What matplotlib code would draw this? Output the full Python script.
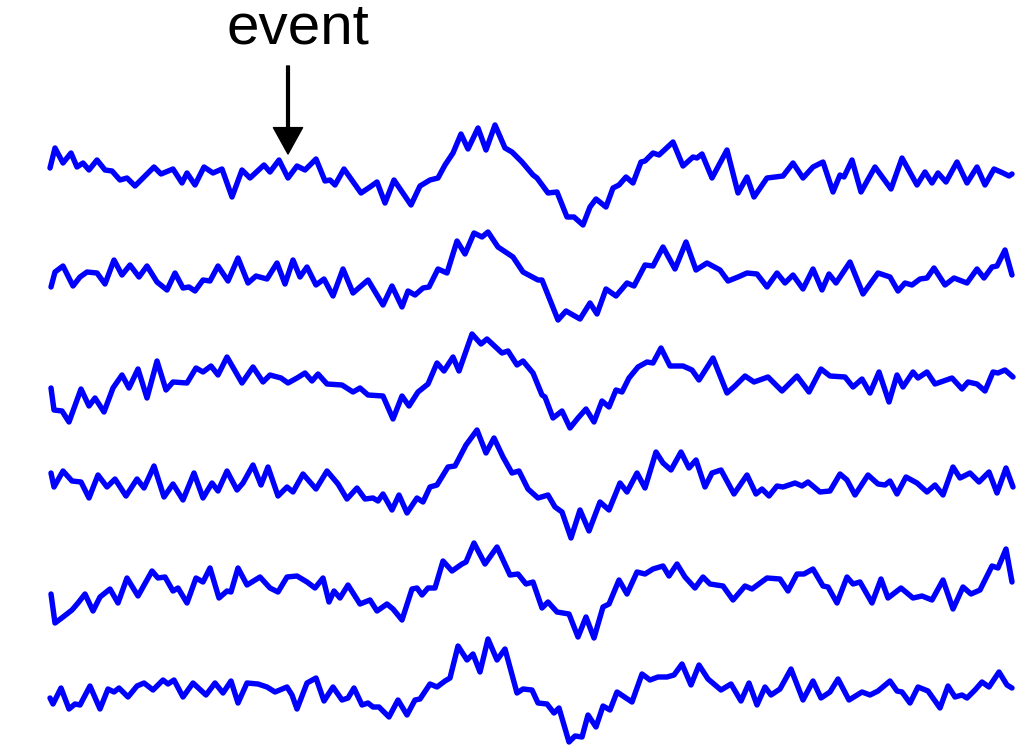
import matplotlib
matplotlib.use("Agg")
from matplotlib import pyplot as plt

# six trials, time (samples) and amplitude
t1 = [50, 55, 63, 71, 77, 83, 89, 97, 105, 112, 120, 127, 135, 143, 154, 161, 173, 182, 187, 195,
      204, 213, 222, 232, 242, 250, 264, 270, 279, 288, 297, 305, 316, 325, 330, 335, 344, 361, 370, 377,
      385, 394, 411, 420, 430, 438, 445, 453, 461, 468, 478, 486, 495, 505, 512, 522, 533,
      537, 548, 557, 567, 574, 583, 590, 596, 606, 613, 619, 626, 633, 641, 645, 653, 659, 673, 683, 693,
      697, 702, 712, 727, 738, 747, 754, 767, 783, 793, 803, 813, 823, 833, 840, 844, 852, 861, 875, 891,
      902, 917, 925, 932, 938, 946, 957, 967, 977, 985, 994, 1003, 1009, 1012]
v1 = [2, 22, 7, 17, 3, 7, 0, 10, 0, -1, -10, -8, -16, -8, 3, -4, 1, -13, -3, -15,
      3, -3, 1, -27, 0, -8, 5, -2, 10, -8, 4, 0, 11, -11, -10, -15, 1, -23, -17, -12,
      -33, -10, -35, -16, -10, -8, 5, 17, 36, 21, 42, 20, 45, 22, 18, 8, -5,
      -8, -23, -22, -47, -47, -55, -37, -29, -37, -18, -15, -7, -13, 8, 9, 17, 15, 28, 4, 13,
      12, 16, -8, 20, -23, -7, -27, -8, -6, 7, -8, 3, 8, -22, -5, -7, 10, -22, 3, -19,
      12, -15, -2, -13, -3, -12, 8, -13, 3, -15, 1, -3, -6, -4]

t2 = [51, 55, 63, 73, 80, 87, 97, 105, 114, 122, 130, 139, 147, 157, 167, 175, 183, 189, 195, 203,
      210, 218, 228, 238, 248, 256, 267, 277, 285, 293, 300, 307, 316, 324, 333, 343, 353, 368, 383, 392,
      402, 408, 415, 423, 429, 438, 447, 457, 465, 474, 482, 488, 498, 513, 523, 538,
      542, 558, 566, 580, 590, 597, 606, 616, 627, 634, 645, 653, 663, 675, 686, 696, 707, 720, 728, 738,
      747, 757, 767, 777, 785, 793, 803, 813, 822, 829, 836, 850, 863, 878, 890, 898, 905, 912, 920, 927,
      934, 945, 954, 967, 977, 984, 992, 997, 1005, 1012]
v2 = [-12, 3, 9, -11, -2, 3, 2, -9, 15, 0, 10, -2, 9, -7, -15, 2, -13, -12, -16, -5,
      -6, 9, -6, 17, -8, -1, -4, 12, -9, 15, -2, 8, -10, -4, -21, 6, -18, -5, -30, -11,
      -32, -16, -20, -13, -12, 6, 2, 34, 21, 42, 38, 43, 28, 18, 3, -5,
      -5, -45, -36, -44, -28, -39, -14, -21, -8, -11, 10, 9, 28, 6, 33, 5, 12, 5, -6, -2,
      2, 1, -12, 2, -8, 0, -14, 6, -15, 1, -8, 13, -19, 2, -2, -16, -8, -10, -4, -3,
      7, -10, -3, -8, 6, -3, 8, 9, 25, 0]

t3 = [51, 54, 62, 69, 81, 89, 95, 104, 113, 122, 129, 138, 147, 157, 166, 173, 187, 196, 203, 211,
      218, 227, 242, 253, 263, 270, 281, 288, 297, 305, 312, 318, 327, 342, 353, 360, 368, 383, 393, 402,
      409, 418, 428, 437, 444, 453, 459, 472, 481, 487, 502, 508, 517, 523, 533,
      542, 545, 553, 562, 570, 578, 586, 594, 602, 609, 616, 622, 629, 638, 647, 653, 661, 670, 683, 692,
      699, 713, 727, 735, 745, 754, 768, 782, 797, 809, 821, 830, 845, 853, 862, 870, 879, 889, 897, 903,
      913, 918, 927, 935, 952, 962, 968, 977, 985, 993, 998, 1005, 1013]
v3 = [-3, -25, -26, -37, -4, -21, -13, -27, -3, 10, -3, 16, -13, 24, -5, 3, 2, 17, 13, 19,
      10, 28, 2, 18, 3, 10, 7, 2, 7, 12, 4, 11, 1, 0, -7, -3, -10, -11, -34, -11,
      -21, -7, 1, 22, 14, 28, 14, 51, 41, 46, 32, 34, 20, 24, 12,
      -10, -12, -33, -26, -43, -33, -24, -37, -16, -22, -5, -7, 7, 18, 23, 22, 37, 19, 19, 15,
      5, 27, -8, -1, 9, 3, 8, -6, 9, -7, 16, 9, 8, -2, 6, -8, 13, -17, 10, -2,
      13, 7, 13, 1, 7, -4, 3, 1, -6, 13, 12, 15, 8]

t4 = [51, 54, 63, 72, 81, 89, 98, 107, 115, 126, 137, 144, 154, 164, 173, 183, 194, 203, 212, 218,
      227, 237, 243, 253, 261, 268, 278, 287, 293, 303, 316, 327, 338, 347, 357, 365, 373, 378, 383, 392,
      399, 407, 417, 423, 430, 437, 448, 455, 466, 477, 486, 494, 503, 512, 519, 528,
      538, 548, 555, 562, 571, 580, 589, 600, 609, 620, 627, 637, 645, 656, 663, 671, 681, 689, 696, 705,
      712, 721, 734, 747, 756, 762, 769, 777, 783, 795, 802, 808, 820, 830, 840, 847, 855, 868, 878, 885,
      890, 897, 906, 917, 927, 935, 943, 953, 960, 970, 979, 989, 997, 1006, 1013]
v4 = [7, -7, 9, -1, -2, -18, 5, -7, 1, -16, 1, -8, 14, -17, -4, -20, 7, -18, -3, -11,
      9, -10, -3, 15, -5, 13, -16, -7, -12, 6, -9, 9, -4, -19, -8, -19, -18, -21, -14, -30,
      -15, -33, -18, -22, -7, -5, 13, 14, 35, 50, 27, 42, 23, 7, 9, -9,
      -18, -15, -27, -32, -58, -30, -51, -22, -30, -3, -12, 7, -8, 28, 17, 10, 28, 12, 20, -7,
      7, 10, -14, 5, -14, -9, -16, -6, -7, -3, -6, -2, -12, -11, 6, 0, -15, 5, -4, -5,
      -1, -14, 3, -3, -12, -5, -15, 13, 2, 7, -2, 8, -13, 12, -7]

t5 = [51, 55, 63, 72, 78, 85, 93, 100, 110, 118, 127, 138, 152, 158, 165, 173, 178, 187, 196, 203,
      210, 219, 227, 231, 238, 247, 260, 270, 278, 287, 297, 307, 315, 323, 329, 334, 340, 348, 360, 370,
      377, 387, 393, 402, 412, 417, 422, 428, 435, 443, 452, 462, 466, 474, 485, 497, 510, 518, 526, 533,
      542, 548, 557, 569, 578, 586, 594, 603, 609, 619, 627, 637, 645, 653, 663, 669, 677, 685, 695, 703,
      710, 723, 733, 745, 752, 767, 780, 788, 797, 804, 813, 823, 828, 837, 847, 853, 860, 872, 881, 888,
      901, 913, 922, 932, 943, 953, 963, 971, 980, 992, 998, 1006, 1012]
v5 = [-4, -33, -27, -20, -13, -4, -21, -7, 1, -13, 12, -6, 19, 12, 13, -1, 2, -13, 12, 8,
      22, -8, -1, -2, 22, 5, 13, 2, -2, 13, 14, 8, 2, 12, -12, -1, -8, 5, -14, -10,
      -21, -14, -19, -30, 1, 2, -5, 2, 2, 29, 19, 26, 28, 47, 26, 43, 15, 16, 6, 8,
      -18, -12, -22, -24, -47, -27, -48, -17, -14, 10, -4, 18, 16, 21, 24, 14, 26, 13, 2, 13,
      6, 4, -10, 4, 1, 12, 11, -1, 16, 16, 21, 4, 3, -13, 13, 6, 8, -13, 11, -8,
      2, -8, -6, -10, 10, -19, 3, -4, 0, 24, 22, 41, 8]

t6 = [50, 53, 61, 69, 75, 80, 90, 100, 108, 114, 119, 128, 137, 144, 153, 163, 168, 174, 183, 193,
      206, 215, 223, 231, 238, 247, 258, 267, 275, 287, 292, 297, 307, 316, 324, 333, 342, 348, 354, 362,
      368, 373, 379, 389, 398, 407, 415, 420, 430, 437, 445, 450, 458, 467, 473, 480, 488, 497, 505, 517,
      523, 532,
      538, 547, 554, 559, 569, 575, 582, 588, 596, 603, 610, 617, 632, 642, 650, 658, 667, 674, 682, 691,
      699, 708, 721, 731, 741, 749, 757, 765, 771, 780, 791, 803, 813, 821, 830, 838, 849, 862, 870, 878,
      890, 897, 902, 910, 918, 928, 940, 948, 955, 962, 967, 975, 982, 989, 999, 1007, 1012]
v6 = [-3, -9, 7, -14, -9, -10, 9, -14, 6, 3, 7, -2, 9, 12, 5, 15, 11, 15, -2, 12,
      0, 12, 2, 14, -8, 12, 11, 8, 3, 8, 0, -14, 12, 17, -6, 8, -5, -3, 7, -10,
      -8, -12, -12, -22, -5, -20, -5, -4, 11, 8, 14, 17, 49, 35, 41, 23, 56, 35, 46, 2,
      6, 5,
      -8, -9, -18, -13, -47, -41, -42, -20, -32, -11, -15, 3, -7, 21, 15, 18, 18, 20, 31, 10,
      30, 16, 5, 11, -6, 12, -10, 8, 0, 6, 26, -5, 14, -3, 3, 16, -5, 3, 0, 4,
      14, 4, 3, -8, 8, 4, -13, 9, -2, 0, -3, 5, 13, 8, 23, 10, 7]

trials = [(t1, v1), (t2, v2), (t3, v3), (t4, v4), (t5, v5), (t6, v6)]
baselines = [170, 275, 385, 480, 590, 695]

event_time = 288
event_label = "event"

fig = plt.figure(figsize=(10.27, 7.49), dpi=100)
ax = fig.add_axes([0, 0, 1, 1])
ax.set_xlim(0, 1027)
ax.set_ylim(749, 0)
ax.axis("off")

for (t, v), base in zip(trials, baselines):
    ax.plot(t, [base - a for a in v], color="#0000ff", lw=3.9,
            solid_joinstyle="round", solid_capstyle="round")

ax.annotate("", xy=(event_time, 154), xytext=(event_time, 66),
            arrowprops=dict(facecolor="black", edgecolor="black", width=2.0,
                            headwidth=21, headlength=19, shrink=0))
ax.text(298, 28, event_label, ha="center", va="center", fontsize=42,
        family=["Liberation Sans", "DejaVu Sans"])

fig.savefig("out.png", dpi=100)
